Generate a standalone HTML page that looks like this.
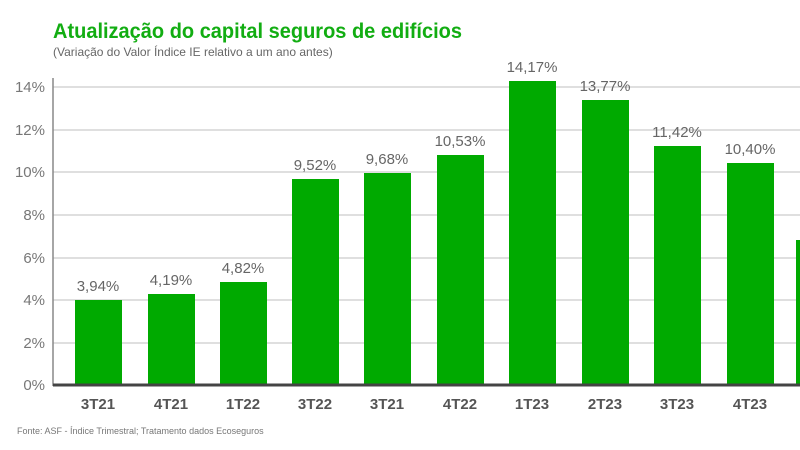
<!DOCTYPE html>
<html><head><meta charset="utf-8"><style>
body{margin:0;background:#fff;width:800px;height:450px;overflow:hidden}
svg{display:block;font-family:"Liberation Sans",sans-serif}
</style></head><body>
<svg width="800" height="450" viewBox="0 0 800 450">
<text x="53" y="38" font-size="21" font-weight="bold" fill="#12ad12" textLength="409" lengthAdjust="spacingAndGlyphs">Atualização do capital seguros de edifícios</text>
<text x="53" y="56" font-size="12" fill="#666">(Variação do Valor Índice IE relativo a um ano antes)</text>
<g stroke="#ccc" stroke-width="1.2">
<line x1="53" y1="87" x2="800" y2="87"/><line x1="53" y1="130" x2="800" y2="130"/>
<line x1="53" y1="172" x2="800" y2="172"/><line x1="53" y1="215" x2="800" y2="215"/>
<line x1="53" y1="258" x2="800" y2="258"/><line x1="53" y1="300" x2="800" y2="300"/>
<line x1="53" y1="343" x2="800" y2="343"/>
</g>
<g font-size="15" fill="#777" text-anchor="end">
<text x="45" y="92">14%</text><text x="45" y="135">12%</text><text x="45" y="177">10%</text>
<text x="45" y="220">8%</text><text x="45" y="263">6%</text><text x="45" y="305">4%</text>
<text x="45" y="348">2%</text><text x="45" y="390">0%</text>
</g>
<g fill="#00aa00">
<rect x="75" y="300" width="47" height="85"/>
<rect x="148" y="294" width="47" height="91"/>
<rect x="220" y="282" width="47" height="103"/>
<rect x="292" y="179" width="47" height="206"/>
<rect x="364" y="173" width="47" height="212"/>
<rect x="437" y="155" width="47" height="230"/>
<rect x="509" y="81" width="47" height="304"/>
<rect x="582" y="100" width="47" height="285"/>
<rect x="654" y="146" width="47" height="239"/>
<rect x="727" y="163" width="47" height="222"/>
<rect x="796" y="240" width="10" height="145"/>
</g>
<line x1="53" y1="78" x2="53" y2="386" stroke="#888" stroke-width="1.5"/>
<line x1="53" y1="385" x2="800" y2="385" stroke="#444" stroke-width="3"/>
<g font-size="15" fill="#666" text-anchor="middle">
<text x="98" y="291">3,94%</text><text x="171" y="285">4,19%</text><text x="243" y="273">4,82%</text>
<text x="315" y="170">9,52%</text><text x="387" y="164">9,68%</text><text x="460" y="146">10,53%</text>
<text x="532" y="72">14,17%</text><text x="605" y="91">13,77%</text><text x="677" y="137">11,42%</text>
<text x="750" y="154">10,40%</text>
</g>
<g font-size="15" font-weight="bold" fill="#555" text-anchor="middle">
<text x="98" y="409">3T21</text><text x="171" y="409">4T21</text><text x="243" y="409">1T22</text>
<text x="315" y="409">3T22</text><text x="387" y="409">3T21</text><text x="460" y="409">4T22</text>
<text x="532" y="409">1T23</text><text x="605" y="409">2T23</text><text x="677" y="409">3T23</text>
<text x="750" y="409">4T23</text>
</g>
<text x="17" y="434" font-size="9" fill="#777">Fonte: ASF - Índice Trimestral; Tratamento dados Ecoseguros</text>
</svg>
</body></html>
